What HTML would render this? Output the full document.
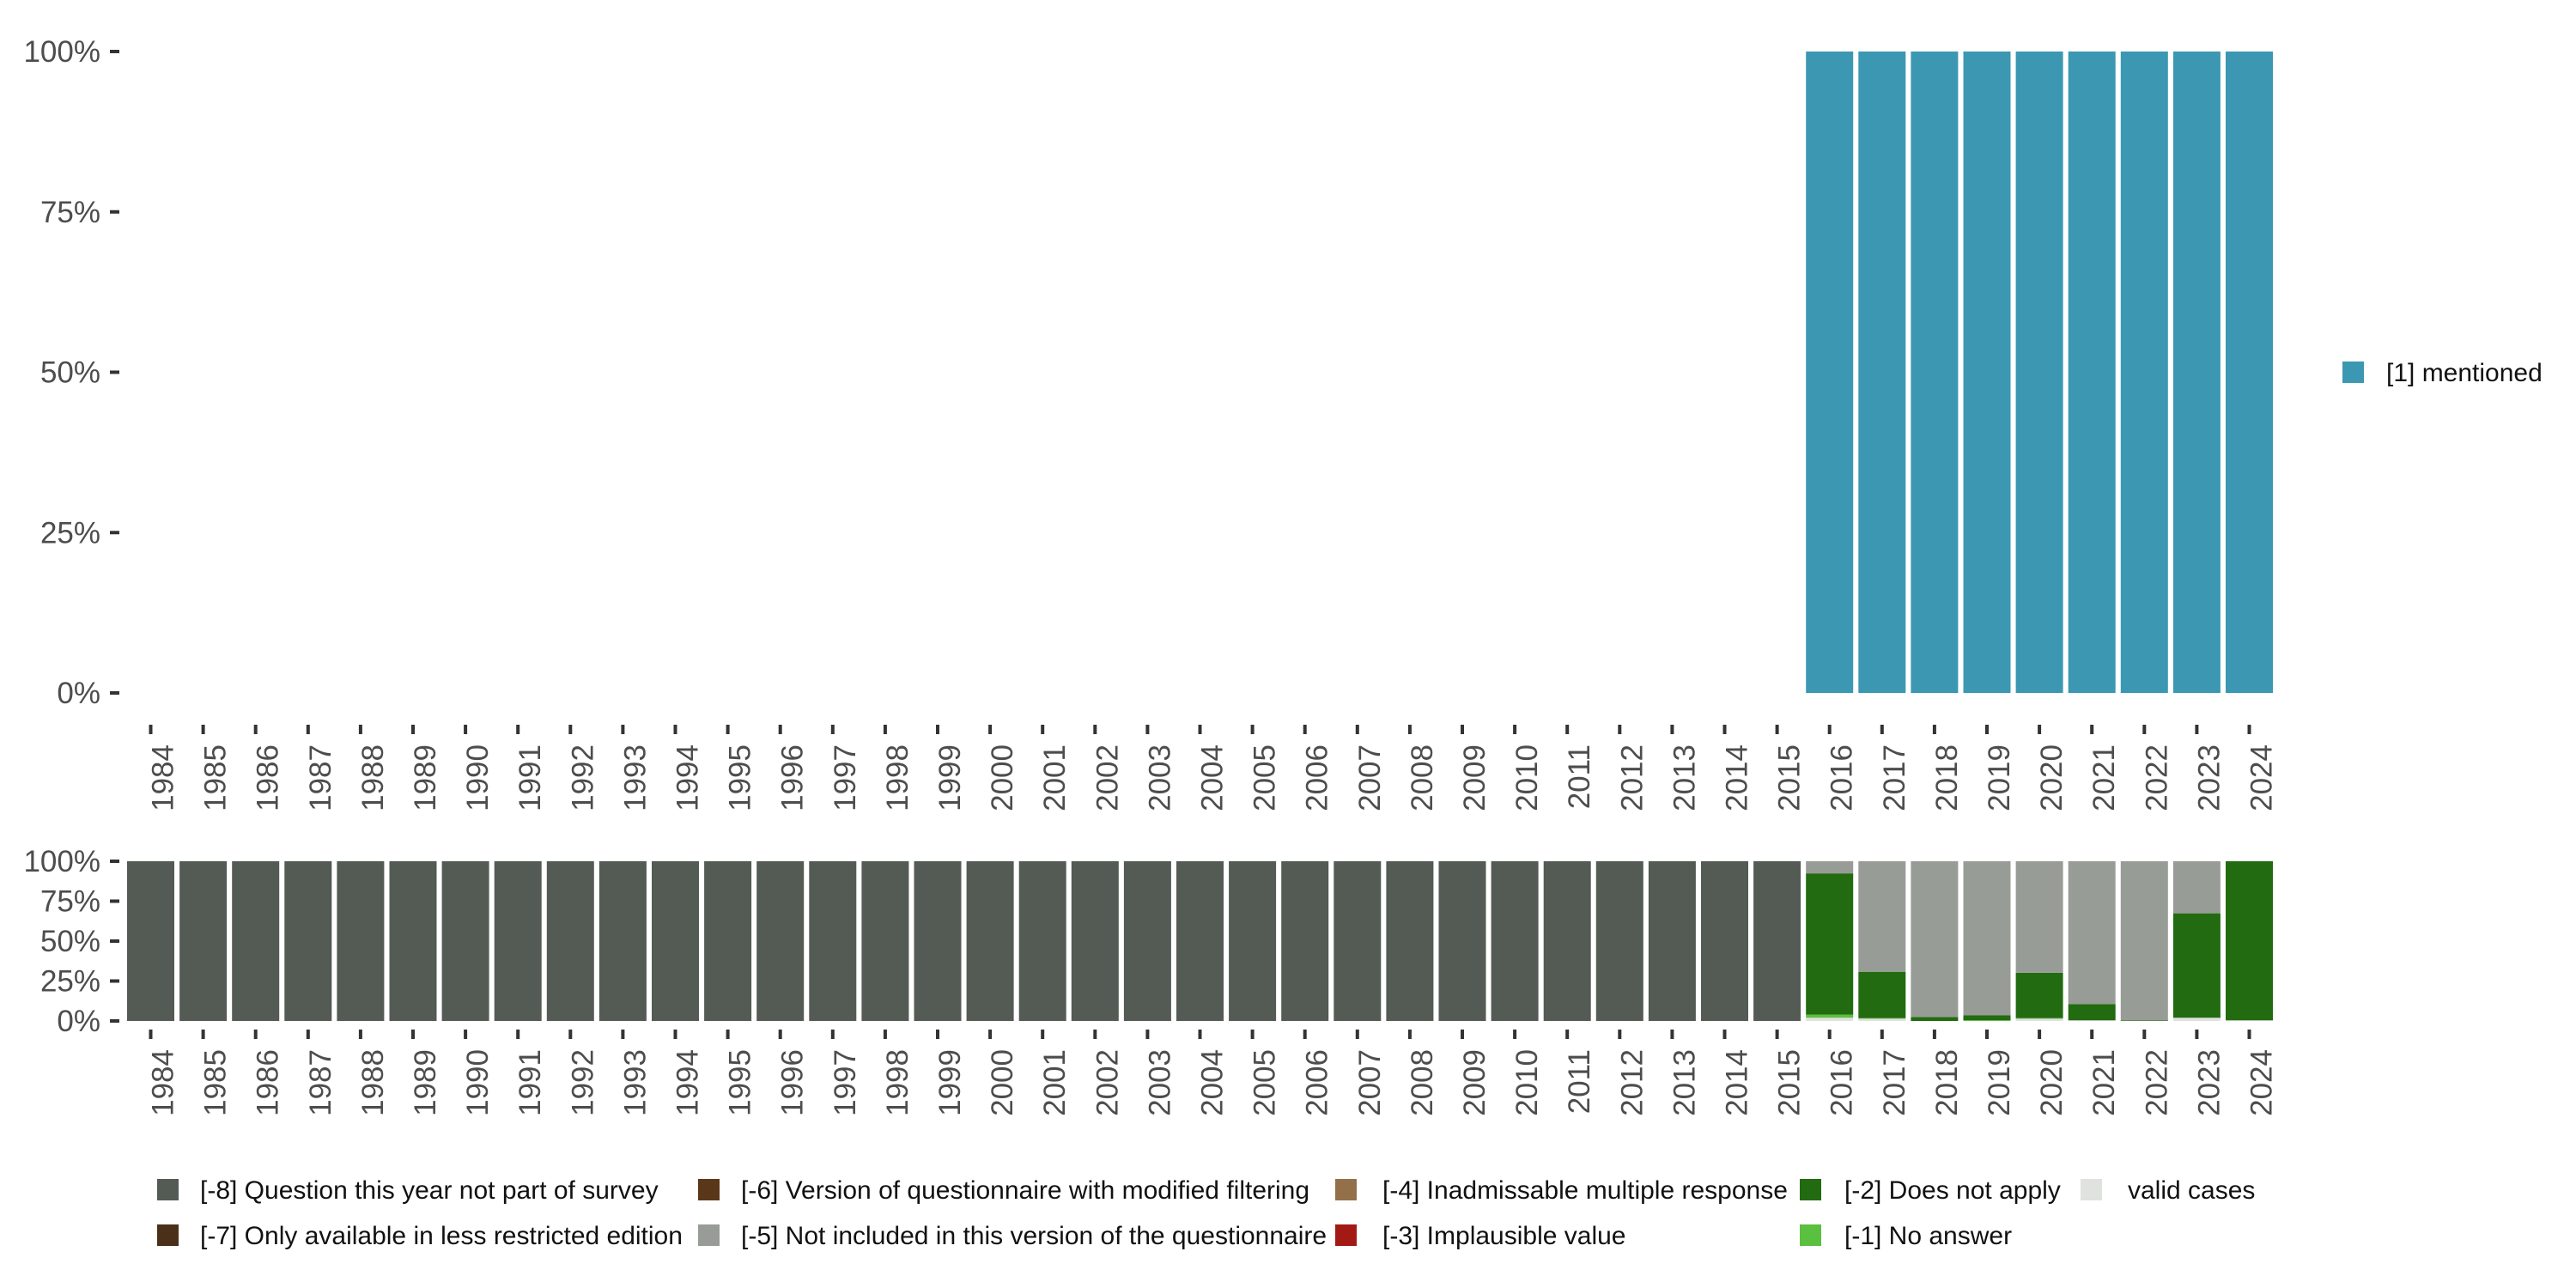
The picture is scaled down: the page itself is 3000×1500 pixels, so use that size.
<!DOCTYPE html>
<html><head><meta charset="utf-8"><style>html,body{margin:0;padding:0;background:#fff}svg{display:block}</style></head>
<body>
<svg id="s" xmlns="http://www.w3.org/2000/svg" width="3000" height="1500" viewBox="0 0 3000 1500" font-family="Liberation Sans, sans-serif">
<rect width="3000" height="1500" fill="#fff"/>
<g id="g"></g>
<rect x="2728" y="421" width="25" height="25" fill="#3c98b2"/>
<text x="2779" y="444" font-size="30" fill="#111">[1] mentioned</text>
<g font-size="30" fill="#111">
<rect x="183" y="1373" width="25" height="25" fill="#545a54"/><text x="233" y="1396">[-8] Question this year not part of survey</text>
<rect x="183" y="1426" width="25" height="25" fill="#4a3018"/><text x="233" y="1449">[-7] Only available in less restricted edition</text>
<rect x="813" y="1373" width="25" height="25" fill="#5a3719"/><text x="863" y="1396">[-6] Version of questionnaire with modified filtering</text>
<rect x="813" y="1426" width="25" height="25" fill="#989c96"/><text x="863" y="1449">[-5] Not included in this version of the questionnaire</text>
<rect x="1555" y="1373" width="25" height="25" fill="#94704a"/><text x="1610" y="1396">[-4] Inadmissable multiple response</text>
<rect x="1555" y="1426" width="25" height="25" fill="#a31a14"/><text x="1610" y="1449">[-3] Implausible value</text>
<rect x="2096" y="1373" width="25" height="25" fill="#226b10"/><text x="2148" y="1396">[-2] Does not apply</text>
<rect x="2096" y="1426" width="25" height="25" fill="#5bbf3f"/><text x="2148" y="1449">[-1] No answer</text>
<rect x="2423" y="1373" width="25" height="25" fill="#e0e2df"/><text x="2478" y="1396">valid cases</text>
</g>
</svg>
<script>
var g=document.getElementById('g'),h='';
function r(x,y,w,hh,c){h+='<rect x="'+x+'" y="'+y+'" width="'+w+'" height="'+hh+'" fill="'+c+'"/>';}
function t(x,y,s,a,extra){h+='<text x="'+x+'" y="'+y+'" font-size="35" fill="#4d4d4d" text-anchor="'+a+'" '+(extra||'')+'>'+s+'</text>';}
var top0=807,top1=60,b0=1189,b1=1003;
[0,25,50,75,100].forEach(function(v){
 var y=top0-(top0-top1)*v/100; r(128,y-2,11,4,'#333'); t(117,y+12,v+'%','end');
 var y2=b0-(b0-b1)*v/100; r(128,y2-2,11,4,'#333'); t(117,y2+12,v+'%','end');
});
var C={v:'#e0e2df',n:'#5bbf3f',d:'#226b10',f:'#989c96',q:'#545a54'};
var data={2016:[2,2,88.4],2017:[1.4,0.4,29],2018:[0,0,2.5],2019:[0,0.5,3],2020:[1.4,0.4,28.4],2021:[0.4,0,10.2],2022:[0,0,0.4],2023:[2,0,65.4],2024:[0.4,0,99.6]};
var step=61.1,w=55;
for(var i=0;i<41;i++){
 var yr=1984+i,x=148+i*step,cx=x+w/2;
 if(yr>=2016) r(x,top1,w,top0-top1,'#3c98b2');
 var H=b0-b1;
 if(yr<2016) r(x,b1,w,H,C.q);
 else{
  var d=data[yr],y=b0;
  var segs=[[d[0],C.v],[d[1],C.n],[d[2],C.d]];
  var used=0;
  segs.forEach(function(s){if(s[0]>0){var hh=H*s[0]/100;r(x,y-hh,w,hh,s[1]);y-=hh;used+=s[0];}});
  if(used<100) r(x,b1,w,y-b1,C.f);
 }
 r(cx-2,844,4,11,'#333'); r(cx-2,1199,4,11,'#333');
 t(cx+26,867,yr,'end','transform="rotate(-90 '+(cx+26)+' 867)"');
 t(cx+26,1222,yr,'end','transform="rotate(-90 '+(cx+26)+' 1222)"');
}
g.innerHTML=h;
</script>
</body></html>
